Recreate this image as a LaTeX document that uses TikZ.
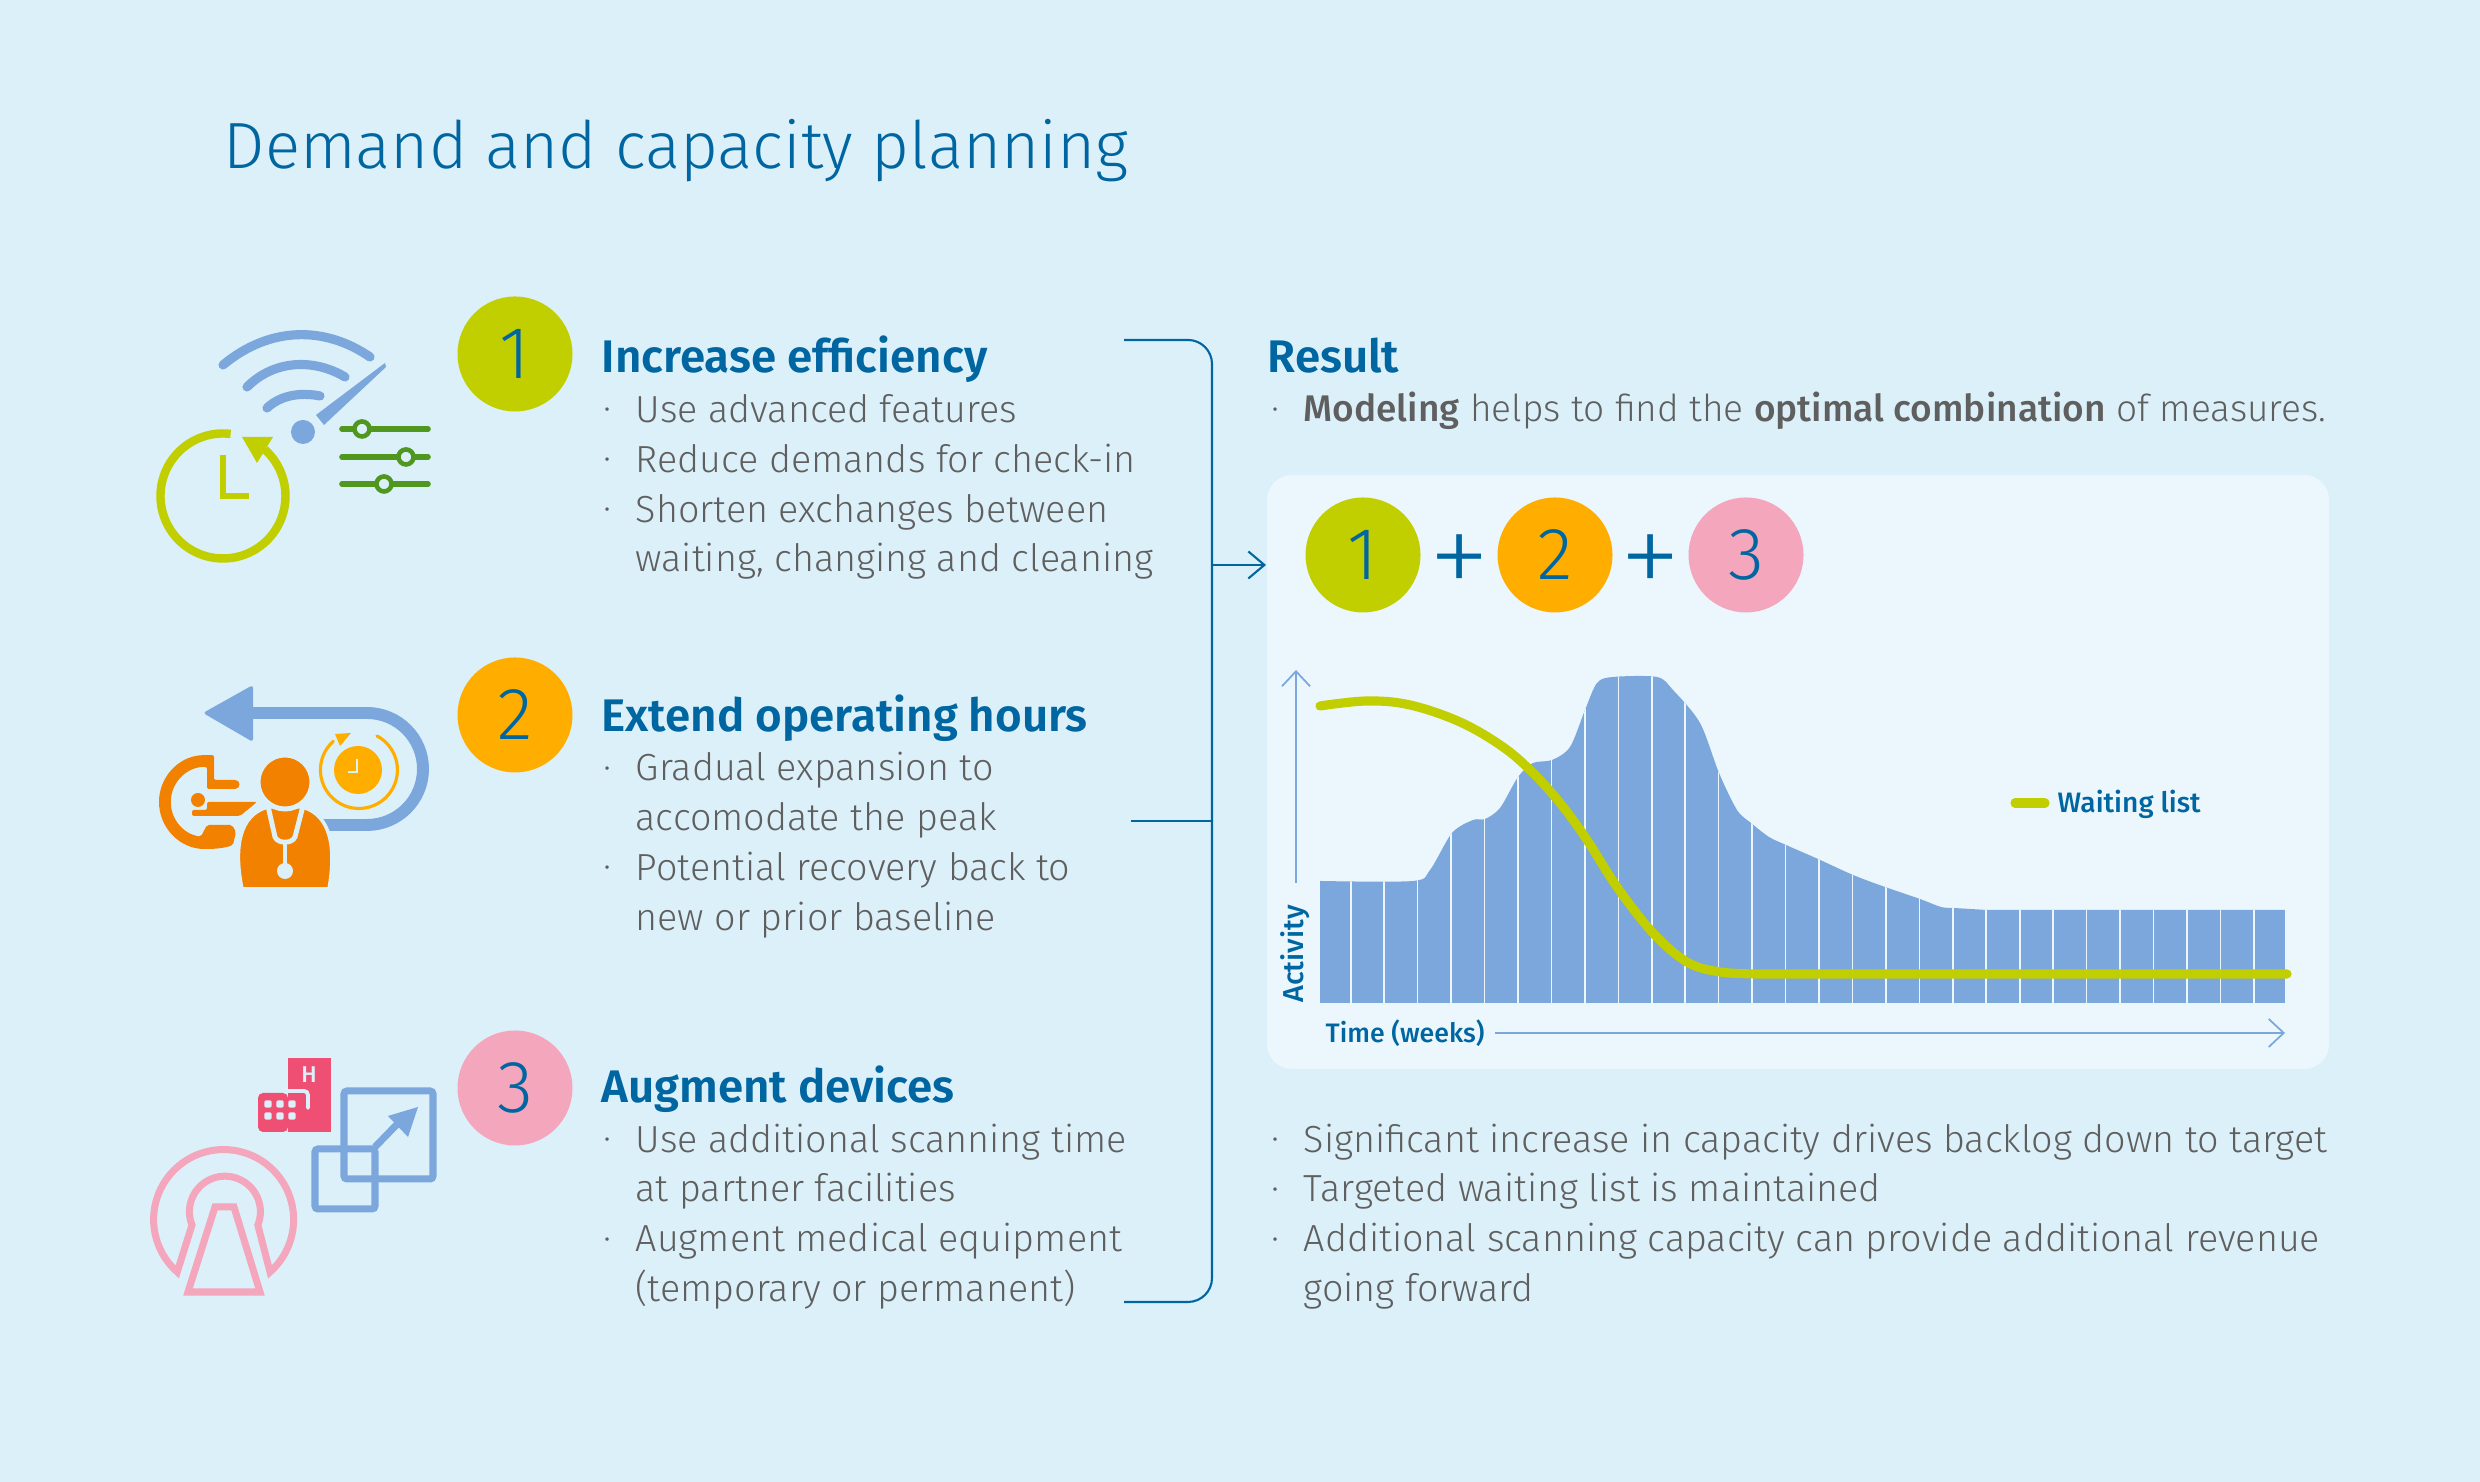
\documentclass[tikz,border=0pt]{standalone}
\usepackage{fontspec}
\setmainfont{Fira Sans Light}[BoldFont=Fira Sans Medium]
\newfontfamily\headfont{Fira Sans SemiBold}
\newfontfamily\plusfont{Fira Sans ExtraLight}
\usetikzlibrary{arrows.meta}

\definecolor{pagebg}{HTML}{DCF0F9}
\definecolor{panelbg}{HTML}{ECF7FD}
\definecolor{headblue}{HTML}{0066A1}
\definecolor{softblue}{HTML}{7BA7DC}
\definecolor{txtgray}{HTML}{5F5F5F}
\definecolor{limeone}{HTML}{C1CE00}
\definecolor{ambertwo}{HTML}{FFAE00}
\definecolor{pinkthree}{HTML}{F4A6BC}
\definecolor{darkorange}{HTML}{F38100}
\definecolor{leafgreen}{HTML}{4F971F}
\definecolor{hospred}{HTML}{EE4F73}

% Bullet at the start of a list line, and the same gap for a continued line
\newcommand{\itemdot}{\makebox[9.4pt][l]{\hspace{0.3pt}\raisebox{1.3pt}{\fontsize{6.5}{6.5}\selectfont\textbullet}}}
\newcommand{\itemgap}{\hspace*{9.4pt}}

\begin{document}
\begin{tikzpicture}[
    numdot/.style={circle, minimum size=1.15cm, inner sep=0pt, text=headblue, font=\fontsize{21}{21}\selectfont},
    heading/.style={anchor=base west, inner sep=0pt, text=headblue, font=\fontsize{13}{15}\headfont},
    bodytext/.style={anchor=north west, inner sep=0pt, align=left, text=txtgray, font=\fontsize{10.73}{14.2}\selectfont},
    smalllabel/.style={inner sep=0pt, text=headblue, font=\fontsize{7.6}{9}\selectfont\bfseries},
    plussign/.style={inner sep=0pt, text=headblue, font=\fontsize{36}{36}\plusfont},
    bracket/.style={draw=headblue, line width=0.6pt},
    axisline/.style={draw=softblue, line width=0.5pt, -{Straight Barb[length=0.15cm,width=0.28cm]}},
    iconblue/.style={draw=softblue, line width=2pt}
]

  % Define variables for better adjustability
  \def\barBase{4.79}      % Bottom of the activity bars
  \def\barStep{0.3345}    % Distance between bar separators
  \def\textX{6.02}        % Left edge of the left lists
  \def\resultX{12.70}     % Left edge of the right lists

  % Page and title
  \fill[pagebg] (0,0) rectangle (24.8,14.82);
  \useasboundingbox (0,0) rectangle (24.8,14.82);
  \node[anchor=base west, inner sep=0pt, text=headblue, font=\fontsize{18.6}{24}\selectfont] (title) at (2.23,13.13) {Demand and capacity planning};

  % Numbered circles
  \node[numdot, fill=limeone] (one) at (5.15,11.28) {1};
  \node[numdot, fill=ambertwo] (two) at (5.15,7.67) {2};
  \node[numdot, fill=pinkthree] (three) at (5.15,3.94) {3};

  % Left lists
  \node[heading] (effHead) at (6.01,11.09) {Increase efficiency};
  \node[bodytext] (effList) at (\textX,10.885) {\itemdot Use advanced features\\ \itemdot Reduce demands for check-in\\ \itemdot Shorten exchanges between\\ \itemgap waiting, changing and cleaning};
  \node[heading] (hoursHead) at (6.01,7.50) {Extend operating hours};
  \node[bodytext] (hoursList) at (\textX,7.305) {\itemdot Gradual expansion to\\ \itemgap accomodate the peak\\ \itemdot Potential recovery back to\\ \itemgap new or prior baseline};
  \node[heading] (devHead) at (6.01,3.79) {Augment devices};
  \node[bodytext] (devList) at (\textX,3.59) {\itemdot Use additional scanning time\\ \itemgap at partner facilities\\ \itemdot Augment medical equipment\\ \itemgap (temporary or permanent)};

  % Result panel
  \node[fill=panelbg, rounded corners=0.25cm, minimum width=10.62cm, minimum height=5.94cm, inner sep=0pt] (panel) at (17.98,7.10) {};
  \node[heading] (resHead) at (12.67,11.09) {Result};
  \node[bodytext, font=\fontsize{10.55}{14.2}\selectfont] (resLine) at (\resultX,10.905) {\itemdot \textbf{Modeling} helps to find the \textbf{optimal combination} of measures.};
  \node[bodytext] (resList) at (\resultX,3.59) {\itemdot Significant increase in capacity drives backlog down to target\\ \itemdot Targeted waiting list is maintained\\ \itemdot Additional scanning capacity can provide additional revenue\\ \itemgap going forward};

  % Sum of the three measures
  \node[numdot, fill=limeone] (sumOne) at (13.63,9.27) {1};
  \node[numdot, fill=ambertwo] (sumTwo) at (15.55,9.27) {2};
  \node[numdot, fill=pinkthree] (sumThree) at (17.46,9.27) {3};
  \node[plussign] (plusOne) at (14.60,9.15) {+};
  \node[plussign] (plusTwo) at (16.51,9.15) {+};

  % Bracket joining the lists to the panel
  \coordinate (BrTop) at (11.24,11.42);
  \coordinate (BrMid) at (11.31,6.61);
  \coordinate (BrBottom) at (11.24,1.80);
  \coordinate (BrTopCorner) at (12.12,11.42);
  \coordinate (BrBottomCorner) at (12.12,1.80);
  \coordinate (BrJoin) at (12.12,9.17);
  \coordinate (BrTip) at (12.66,9.17);
  \draw[bracket, rounded corners=0.24cm] (BrTop) -- (BrTopCorner) -- (BrBottomCorner) -- (BrBottom);
  \draw[bracket] (BrMid) -- (BrMid -| BrJoin);
  \draw[bracket, -{Straight Barb[length=0.16cm,width=0.27cm]}] (BrJoin) -- (BrTip);

  % Activity area with separators between the bars
  \begin{scope}
    \clip (13.20,\barBase) -- plot[smooth, tension=0.5] coordinates {(13.20,6.01) (14.13,6.01) (14.30,6.12) (14.52,6.49) (14.73,6.62) (14.85,6.63) (15.00,6.74) (15.18,7.05) (15.33,7.19) (15.52,7.22) (15.70,7.35) (15.85,7.72) (15.97,7.99) (16.13,8.05) (16.57,8.05) (16.73,7.92) (17.00,7.59) (17.19,7.09) (17.37,6.72) (17.51,6.59) (17.69,6.45) (17.86,6.37) (18.18,6.23) (18.53,6.07) (18.85,5.95) (19.20,5.83) (19.41,5.75) (19.54,5.74) (19.87,5.72)} -- (22.85,5.72) -- (22.85,\barBase) -- cycle;
    \fill[softblue] (13.20,\barBase) rectangle (22.85,8.10);
    \foreach \i in {0,...,27} {
      \draw[panelbg, line width=0.45pt] ({13.507+\i*\barStep},\barBase) -- ++(0,3.4);
    }
  \end{scope}

  % Waiting list curve
  \draw[limeone, line width=2.6pt, line cap=round] plot[smooth, tension=0.6] coordinates {(13.20,7.76) (13.67,7.81) (14.10,7.77) (14.60,7.60) (15.03,7.35) (15.33,7.09) (15.60,6.79) (15.87,6.42) (16.17,5.95) (16.53,5.49) (16.87,5.20) (17.20,5.10) (17.60,5.08)} -- (22.87,5.08);

  % Axes
  \coordinate (AxisYStart) at (12.96,5.99);
  \coordinate (AxisYEnd) at (12.96,8.12);
  \coordinate (AxisXEnd) at (22.85,4.49);
  \node[smalllabel, rotate=90, anchor=base, font=\fontsize{8.2}{9}\selectfont\bfseries] (activity) at (13.03,5.28) {Activity};
  \node[smalllabel, anchor=base west] (time) at (13.25,4.39) {Time (weeks)};
  \draw[axisline] (AxisYStart) -- (AxisYEnd);
  \draw[axisline] (time.east |- AxisXEnd) ++(0.10,0) -- (AxisXEnd);

  % Legend
  \node[smalllabel, anchor=base west, font=\fontsize{8}{9}\selectfont\bfseries] (legend) at (20.57,6.69) {Waiting list};
  \coordinate (LegendA) at (20.15,6.79);
  \coordinate (LegendB) at (20.45,6.79);
  \draw[limeone, line width=2.6pt, line cap=round] (LegendA) -- (LegendB);

  % Icon 1: gauge, clock and sliders
  \draw[softblue, line width=2.6pt, line cap=round] (2.23,11.17) .. controls (2.70,11.56) and (3.25,11.56) .. (3.70,11.25);
  \draw[softblue, line width=2.6pt, line cap=round] (2.47,10.95) .. controls (2.75,11.23) and (3.15,11.23) .. (3.45,11.05);
  \draw[softblue, line width=2.6pt, line cap=round] (2.67,10.74) .. controls (2.83,10.89) and (3.05,10.89) .. (3.20,10.86);
  \fill[softblue] (3.03,10.50) circle (0.12);
  \fill[softblue] (3.16,10.67) -- (3.85,11.19) -- (3.86,11.15) -- (3.24,10.57) -- cycle;
  \draw[limeone, line width=2.4pt] (2.23,9.86) ++(83:0.625) arc[start angle=83, end angle=408, radius=0.625];
  \fill[limeone] (2.42,10.45) -- (2.73,10.45) -- (2.57,10.19) -- cycle;
  \draw[limeone, line width=1.7pt] (2.23,10.27) -- (2.23,9.86) -- (2.49,9.86);
  \foreach \y/\k in {10.53/3.62, 10.25/4.06, 9.98/3.84} {
    \draw[leafgreen, line width=1.6pt, line cap=round] (3.42,\y) -- (4.28,\y);
    \draw[leafgreen, line width=1.3pt, fill=pagebg] (\k,\y) circle (0.075);
  }

  % Icon 2: loop arrow, clock, scanner and doctor
  \draw[softblue, line width=3.4pt] (2.50,7.69) -- (3.67,7.69) arc[start angle=90, end angle=-90, radius=0.56] -- (3.23,6.57);
  \fill[softblue, rounded corners=0.03cm] (2.03,7.69) -- (2.53,7.97) -- (2.53,7.40) -- cycle;
  \fill[ambertwo] (3.58,7.12) circle (0.24);
  \draw[ambertwo, line width=0.9pt, line cap=round] (3.77,7.46) arc[start angle=62, end angle=-228, radius=0.385];
  \fill[ambertwo] (3.35,7.48) -- (3.51,7.49) -- (3.40,7.36) -- cycle;
  \draw[pagebg, line width=0.6pt] (3.57,7.23) -- (3.57,7.10) -- (3.48,7.10);
  \fill[darkorange, rounded corners=0.02cm] (2.33,6.37) .. controls (2.25,6.34) and (2.15,6.33) .. (2.06,6.33) arc[start angle=-90, end angle=-265, radius=0.47] -- (2.14,7.27) -- (2.14,7.02) -- (2.33,7.02) .. controls (2.41,7.02) and (2.41,6.93) .. (2.33,6.93) -- (2.07,6.93) -- (2.07,7.15) arc[start angle=88, end angle=262, radius=0.35] -- (2.07,6.57) -- (2.32,6.57) -- (2.36,6.50) -- cycle;
  \fill[darkorange] (1.98,6.82) circle (0.07);
  \fill[darkorange, rounded corners=0.02cm] (1.92,6.72) -- (2.07,6.72) -- (2.07,6.80) -- (2.57,6.80) -- (2.40,6.66) -- (1.92,6.66) -- cycle;
  \draw[pagebg, line width=1pt, fill=darkorange] (2.42,5.93) .. controls (2.34,6.32) and (2.38,6.67) .. (2.68,6.75) -- (3.02,6.75) .. controls (3.32,6.67) and (3.36,6.32) .. (3.29,5.93) -- cycle;
  \draw[pagebg, line width=1.4pt, fill=darkorange] (2.85,7.00) circle (0.27);
  \draw[pagebg, line width=1.4pt] (2.68,6.76) -- (2.75,6.45) .. controls (2.78,6.38) and (2.92,6.38) .. (2.95,6.45) -- (3.03,6.76);
  \draw[pagebg, line width=1.4pt] (2.85,6.38) -- (2.85,6.15);
  \fill[pagebg] (2.85,6.11) circle (0.08);

  % Icon 3: hospital, enlarging squares and scanner
  \fill[hospred, rounded corners=0.05cm] (2.58,3.50) -- (2.58,3.89) -- (2.88,3.89) -- (2.88,3.50) -- cycle;
  \fill[hospred] (2.88,3.50) rectangle (3.31,4.24);
  \draw[pagebg, line width=1.1pt, line cap=round, rounded corners=0.04cm] (2.86,3.91) -- (3.08,3.91) -- (3.08,3.74);
  \foreach \x in {2.68,2.80,2.92} {
    \foreach \y in {3.78,3.66} {
      \fill[pagebg, rounded corners=0.02cm] (\x-0.037,\y-0.037) rectangle (\x+0.037,\y+0.037);
    }
  }
  \node[inner sep=0pt, text=pagebg, font=\fontsize{6.5}{7}\selectfont\bfseries] (hospH) at (3.09,4.07) {H};
  \draw[iconblue, rounded corners=0.03cm] (3.44,3.91) rectangle (4.33,3.03);
  \draw[iconblue, rounded corners=0.03cm] (3.15,3.33) rectangle (3.75,2.73);
  \draw[softblue, line width=2pt] (3.75,3.35) -- (4.05,3.66);
  \fill[softblue] (4.18,3.75) -- (3.88,3.66) -- (4.08,3.45) -- cycle;
  \draw[pinkthree, line width=2pt, miter limit=10] (2.70,2.10) arc[start angle=-48.5, end angle=228.5, radius=0.70] -- (1.92,2.57) arc[start angle=202, end angle=-22, radius=0.355] -- cycle;
  \draw[pinkthree, line width=2pt] (1.88,1.90) -- (2.60,1.90) -- (2.34,2.75) -- (2.15,2.75) -- cycle;

\end{tikzpicture}
\end{document}
